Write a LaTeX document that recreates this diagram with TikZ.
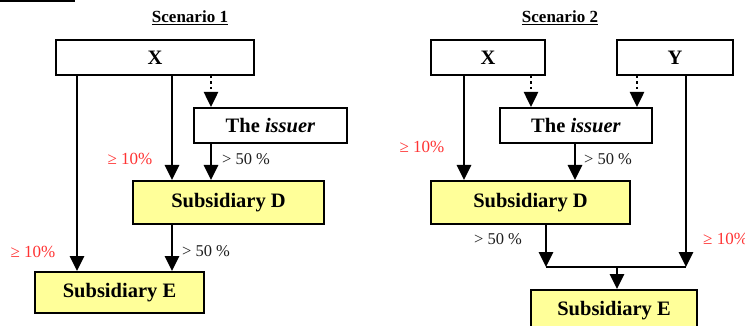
\documentclass[tikz,border=0pt]{standalone}
\usepackage{fontspec}
\setmainfont{Liberation Serif}
\usetikzlibrary{arrows.meta}
\definecolor{boxyellow}{RGB}{255,255,153}
\definecolor{labred}{RGB}{255,51,51}
\definecolor{labgrey}{RGB}{30,30,30}
\begin{document}
\begin{tikzpicture}[x=1pt,y=-1pt,
  box/.style={draw=black,line width=2pt,inner sep=0pt,font=\fontsize{20.5}{24}\selectfont\bfseries},
  ybox/.style={box,fill=boxyellow},
  arr/.style={line width=2.8pt,-{Triangle[width=14pt,length=15pt]}},
  dotarr/.style={line width=2.5pt,dash pattern=on 2.5pt off 3pt,-{Triangle[width=14pt,length=15pt]}},
  plain/.style={line width=2.8pt},
  redlab/.style={text=labred,font=\fontsize{17}{20}\selectfont,inner sep=0pt},
  blklab/.style={text=labgrey,font=\fontsize{16.5}{20}\selectfont,inner sep=0pt},
  title/.style={font=\fontsize{17}{20}\selectfont\bfseries,inner sep=0pt}]
\useasboundingbox (0,0) rectangle (745,326);
\fill[black] (0,0) rectangle (75,2.5);

% Scenario 1
\node[title] (t1) at (190,18) {\underline{Scenario 1}};
\node[box,minimum width=198pt,minimum height=35pt] (X1) at (155,57.5) {X};
\node[box,minimum width=153pt,minimum height=35pt] (I1) at (270.5,125.5) {The \textit{issuer}};
\node[ybox,minimum width=191pt,minimum height=43pt] (D1) at (228.5,202.5) {Subsidiary D};
\node[ybox,minimum width=169pt,minimum height=41pt] (E1) at (119.5,292.5) {Subsidiary E};
\coordinate (a1) at (77,0);
\coordinate (b1) at (172,0);
\coordinate (c1) at (211,0);
\draw[arr] (X1.south -| a1) -- (E1.north -| a1);
\draw[arr] (X1.south -| b1) -- (D1.north -| b1);
\draw[dotarr] (X1.south -| c1) -- (I1.north -| c1);
\draw[arr] (I1.south -| c1) -- (D1.north -| c1);
\draw[arr] (D1.south -| b1) -- (E1.north -| b1);
\node[redlab] (r11) at (130,159) {≥ 10\%};
\node[redlab] (r12) at (33,252) {≥ 10\%};
\node[blklab] (k11) at (246,159) {> 50 \%};
\node[blklab] (k12) at (206,251) {> 50 \%};

% Scenario 2
\node[title] (t2) at (560,18) {\underline{Scenario 2}};
\node[box,minimum width=114pt,minimum height=35pt] (X2) at (488,57.5) {X};
\node[box,minimum width=116pt,minimum height=35pt] (Y2) at (675,57.5) {Y};
\node[box,minimum width=152pt,minimum height=35pt] (I2) at (576,125.5) {The \textit{issuer}};
\node[ybox,minimum width=199pt,minimum height=43pt] (D2) at (530.5,202.5) {Subsidiary D};
\node[ybox,minimum width=166pt,minimum height=41pt] (E2) at (614,310.5) {Subsidiary E};
\coordinate (a2) at (464,0);
\coordinate (b2) at (531,0);
\coordinate (c2) at (637,0);
\coordinate (d2) at (575,0);
\coordinate (j1) at (546,267);
\coordinate (j2) at (686,267);
\coordinate (jm) at (617,267);
\draw[arr] (X2.south -| a2) -- (D2.north -| a2);
\draw[dotarr] (X2.south -| b2) -- (I2.north -| b2);
\draw[dotarr] (Y2.south -| c2) -- (I2.north -| c2);
\draw[arr] (I2.south -| d2) -- (D2.north -| d2);
\draw[arr] (D2.south -| j1) -- (j1);
\draw[arr] (Y2.south -| j2) -- (j2);
\draw[line width=2pt] (j1) -- (j2);
\draw[arr] (jm) -- (E2.north -| jm);
\node[redlab] (r21) at (422,147) {≥ 10\%};
\node[redlab,anchor=west] (r22) at (703,239) {≥ 10\%};
\node[blklab] (k21) at (608,159) {> 50 \%};
\node[blklab] (k22) at (498,239) {> 50 \%};
\end{tikzpicture}
\end{document}
